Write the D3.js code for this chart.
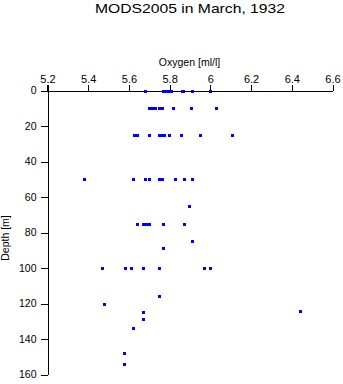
<!DOCTYPE html>
<html><head><meta charset="utf-8">
<script src="https://cdn.jsdelivr.net/npm/d3@7/dist/d3.min.js"></script>
<style>
html,body{margin:0;padding:0;background:#fff;}
svg{display:block;font-family:"Liberation Sans",Arial,Helvetica,sans-serif;}
</style></head>
<body>
<script>
// Data
const depth = [
  0,0,0,0,0,0,0,0,0,
  10,10,10,10,10,10,10,10,
  25,25,25,25,25,25,25,25,25,25,
  50,50,50,50,50,50,50,50,50,
  65,
  75,75,75,75,75,75,
  85, 89,
  100,100,100,100,100,100,100,
  116,120,124,125,129,134,148,154
];
const oxygen = [
  5.68,5.765,5.777,5.79,5.808,5.861,5.868,5.91,6.0,
  5.698,5.713,5.729,5.747,5.762,5.818,5.903,6.029,
  5.627,5.639,5.70,5.747,5.757,5.77,5.798,5.857,5.949,6.108,
  5.38,5.618,5.68,5.70,5.747,5.762,5.828,5.869,5.91,
  5.896,
  5.639,5.671,5.684,5.70,5.769,5.869,
  5.91, 5.769,
  5.469,5.58,5.608,5.67,5.749,5.97,6.0,
  5.749,5.478,6.438,5.67,5.67,5.618,5.577,5.577
];
const xTicks = [5.2,5.4,5.6,5.8,6.0,6.2,6.4,6.6];
const xTickLabels = ["5.2","5.4","5.6","5.8","6","6.2","6.4","6.6"];
const yTicks = [0,20,40,60,80,100,120,140,160];
const title = "MODS2005 in March, 1932";
const xTitle = "Oxygen [ml/l]";
const yTitle = "Depth [m]";

const W = 343, H = 384;
const svg = d3.select("body").append("svg").attr("width", W).attr("height", H);

const x = d3.scaleLinear().domain([5.2, 6.6]).range([47.5, 332.5]);
const y = d3.scaleLinear().domain([0, 160]).range([90.5, 374.5]);

// title
svg.append("text").attr("x", 190).attr("y", 13)
  .attr("text-anchor", "middle").attr("font-size", 13)
  .attr("textLength", 190).attr("lengthAdjust", "spacingAndGlyphs")
  .text(title);

// x axis (top)
const xAxis = d3.axisTop(x).tickValues(xTicks)
  .tickFormat((d, i) => xTickLabels[i]).tickSize(6).tickSizeOuter(0).tickPadding(2);
const gx = svg.append("g").attr("transform", "translate(0,90.5)").call(xAxis);
gx.select(".domain").attr("stroke", "#000").attr("shape-rendering", "crispEdges");
gx.selectAll(".tick line").attr("stroke", "#000").attr("shape-rendering", "crispEdges");
gx.selectAll(".tick text").attr("font-size", 11).attr("fill", "#000")
  .attr("font-family", "Liberation Sans, Arial, sans-serif");

svg.append("text").attr("x", 189.5).attr("y", 65.5)
  .attr("text-anchor", "middle").attr("font-size", 10.5)
  .text(xTitle);

// y axis (left)
const yAxis = d3.axisLeft(y).tickValues(yTicks).tickSize(7).tickSizeOuter(0).tickPadding(4);
const gy = svg.append("g").attr("transform", "translate(47.5,0)").call(yAxis);
gy.select(".domain").attr("stroke", "#000").attr("shape-rendering", "crispEdges");
gy.selectAll(".tick line").attr("stroke", "#000").attr("shape-rendering", "crispEdges");
gy.selectAll(".tick text").attr("font-size", 10.5).attr("fill", "#000")
  .attr("font-family", "Liberation Sans, Arial, sans-serif");

// extend the vertical axis slightly above the top axis
svg.append("line").attr("x1", 47.5).attr("x2", 47.5).attr("y1", 84.5).attr("y2", 90.5)
  .attr("stroke", "#000").attr("shape-rendering", "crispEdges");

svg.append("text")
  .attr("transform", "translate(8.5,238) rotate(-90)")
  .attr("text-anchor", "middle").attr("font-size", 10.5)
  .text(yTitle);

// points
const pts = depth.map((d, i) => ({d, o: oxygen[i]}));
svg.append("g").selectAll("rect").data(pts).join("rect")
  .attr("x", p => Math.round(x(p.o)) - 1.5)
  .attr("y", p => Math.round(y(p.d)) - 1.5)
  .attr("width", 3).attr("height", 3)
  .attr("fill", "#0000ff").attr("shape-rendering", "crispEdges");
</script>
</body></html>
